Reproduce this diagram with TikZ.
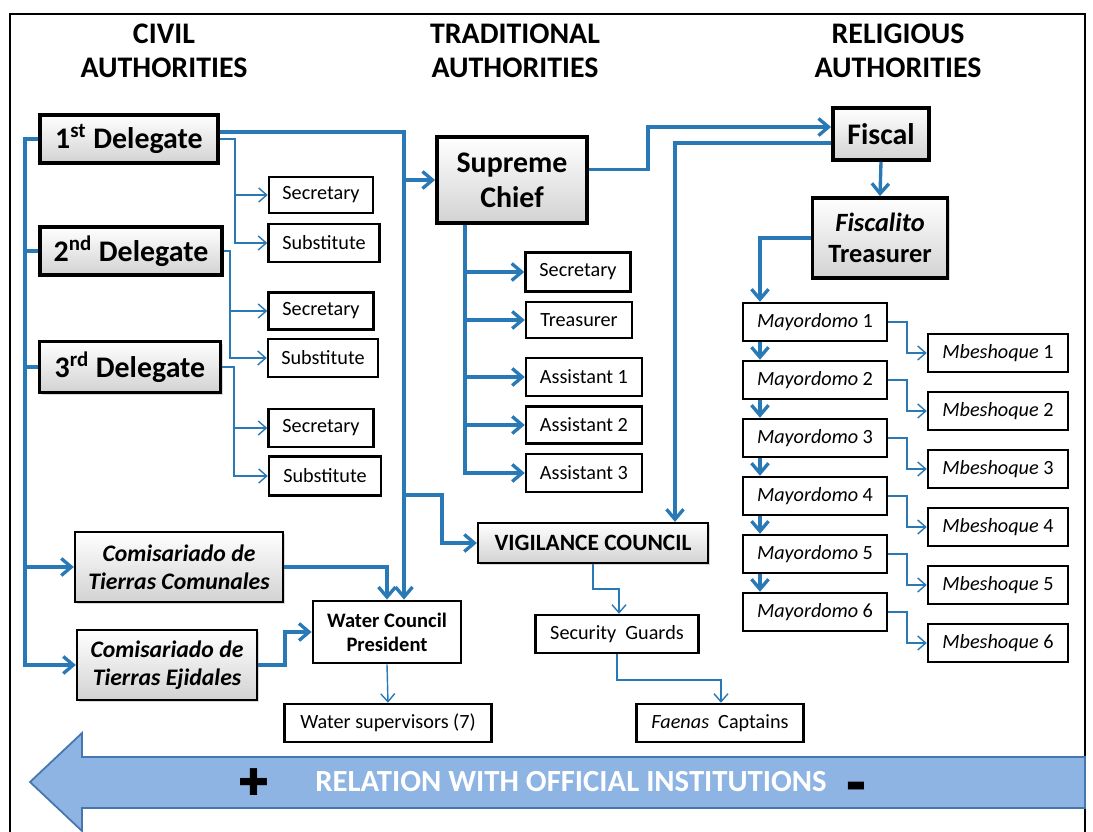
\documentclass[tikz,border=0pt]{standalone}
\usepackage{fontspec}
\setmainfont{Carlito}
\newfontfamily\symfont{DejaVu Sans}
\usetikzlibrary{arrows.meta,shadows}

\definecolor{linkblue}{RGB}{41,121,183}
\definecolor{bandfill}{RGB}{141,180,226}
\definecolor{bandline}{RGB}{70,118,175}

\tikzset{
  boxw/.style={minimum width=#1*0.02cm},
  boxh/.style={minimum height=#1*0.02cm},
  head/.style={font=\bfseries\fontsize{17}{19.5}\selectfont, align=center},
  chiefbox/.style={draw, line width=2.2pt, top color=white, bottom color=gray!35, inner sep=0pt,
    align=center, font=\bfseries\fontsize{17}{20}\selectfont,
    drop shadow={shadow xshift=1.2pt, shadow yshift=-1.2pt, opacity=0.3}},
  councilbox/.style={chiefbox, line width=1.3pt},
  plainbox/.style={draw, line width=1.4pt, fill=white, inner sep=0pt, align=center,
    font=\fontsize{11.5}{13}\selectfont},
  wire/.style={draw=linkblue, line width=1.9pt},
  twig/.style={draw=linkblue, line width=0.8pt},
  bigarrow/.style={-{Straight Barb[length=2mm,width=3.4mm]}},
  smallarrow/.style={-{Straight Barb[length=1.6mm,width=2.8mm]}}
}

\begin{document}
\begin{tikzpicture}[x=0.02cm, y=-0.02cm]

\useasboundingbox (0,0) rectangle (1093,832);
\draw[line width=1pt] (10,832) -- (10,14) -- (1085,14) -- (1085,832);

\node[head] (civil) at (164,51) {CIVIL\\AUTHORITIES};
\node[head] (trad) at (515,51) {TRADITIONAL\\AUTHORITIES};
\node[head] (relig) at (898,51) {RELIGIOUS\\AUTHORITIES};

% civil
\node[chiefbox, boxw=178, boxh=48] (del1) at (129,139) {1\textsuperscript{st} Delegate};
\node[chiefbox, boxw=182, boxh=48] (del2) at (131,251) {2\textsuperscript{nd} Delegate};
\node[chiefbox, boxw=181, boxh=51] (del3) at (130,367) {3\textsuperscript{rd} Delegate};
\node[plainbox, boxw=104, boxh=36] (sec1) at (321,195) {Secretary};
\node[plainbox, boxw=111, boxh=38] (sub1) at (324,243) {Substitute};
\node[plainbox, boxw=105, boxh=37] (sec2) at (321,311) {Secretary};
\node[plainbox, boxw=110, boxh=38] (sub2) at (323,358) {Substitute};
\node[plainbox, boxw=105, boxh=38] (sec3) at (321,428) {Secretary};
\node[plainbox, boxw=112, boxh=39] (sub3) at (325,476) {Substitute};
\node[councilbox, boxw=208, boxh=70, font=\bfseries\itshape\fontsize{13.5}{16}\selectfont] (comun) at (179,567) {Comisariado de\\Tierras Comunales};
\node[councilbox, boxw=180, boxh=70, font=\bfseries\itshape\fontsize{13.5}{16}\selectfont] (ejid) at (167,665) {Comisariado de\\Tierras Ejidales};
\node[plainbox, line width=1.6pt, boxw=148, boxh=62, font=\bfseries\fontsize{11.7}{13.5}\selectfont] (wcp) at (387,632) {Water Council\\President};
\node[plainbox, boxw=207, boxh=38] (wsup) at (388,723) {Water supervisors (7)};

% traditional
\node[chiefbox, boxw=150, boxh=86] (chief) at (512,180) {Supreme\\Chief};
\node[plainbox, boxw=105, boxh=39] (tsec) at (578,272) {Secretary};
\node[plainbox, boxw=106, boxh=36] (ttre) at (579,320) {Treasurer};
\node[plainbox, boxw=116, boxh=38] (ass1) at (584,377) {Assistant 1};
\node[plainbox, boxw=116, boxh=37] (ass2) at (584,425) {Assistant 2};
\node[plainbox, boxw=116, boxh=38] (ass3) at (584,473) {Assistant 3};
\node[councilbox, boxw=230, boxh=40, font=\bfseries\fontsize{13.3}{15}\selectfont] (vig) at (593,543) {VIGILANCE COUNCIL};
\node[plainbox, boxw=163, boxh=38] (guards) at (617,634) {Security\ \ Guards};
\node[plainbox, boxw=167, boxh=38] (faenas) at (720,723) {\textit{Faenas}\ \ Captains};

% religious
\node[chiefbox, boxw=96, boxh=52] (fisc) at (881,134) {Fiscal};
\node[chiefbox, boxw=135, boxh=80, font=\bfseries\fontsize{15}{17.6}\selectfont] (fita) at (880,238) {\textit{Fiscalito}\\Treasurer};
\foreach \i in {1,...,6} {
  \node[plainbox, boxw=144, boxh=38] (may\i) at (815,{322+58*(\i-1)}) {\textit{Mayordomo} \i};
  \node[plainbox, boxw=140, boxh=38] (mb\i) at (998,{353+58*(\i-1)}) {\textit{Mbeshoque} \i};
}

\coordinate (trunk) at (25,139);
\coordinate (b1) at (235,0);
\coordinate (b2) at (230,0);
\coordinate (b3) at (234,0);
\coordinate (spine) at (404,0);
\coordinate (vbend) at (442,495);
\coordinate (ejbend) at (285,0);
\coordinate (cs) at (465,0);
\coordinate (cfup) at (648,127);
\coordinate (fv) at (675,143);
\coordinate (fm) at (760,0);
\coordinate (mm) at (907,0);
\coordinate (vg) at (619,589);
\coordinate (gf) at (721,680);

% civil links
\draw[wire, bigarrow] (del1.west) -- (trunk) |- (ejid.west);
\draw[wire] (trunk |- del2.west) -- (del2.west);
\draw[wire] (trunk |- del3.west) -- (del3.west);
\draw[wire, bigarrow] (trunk |- comun.west) -- (comun.west);
\draw[twig, smallarrow] (del1.east) -- (del1.east -| b1) |- (sub1.west);
\draw[twig, smallarrow] (b1 |- sec1.west) -- (sec1.west);
\draw[twig, smallarrow] (del2.east) -- (del2.east -| b2) |- (sub2.west);
\draw[twig, smallarrow] (b2 |- sec2.west) -- (sec2.west);
\draw[twig, smallarrow] (del3.east) -- (del3.east -| b3) |- (sub3.west);
\draw[twig, smallarrow] (b3 |- sec3.west) -- (sec3.west);
\draw[wire, bigarrow] ([yshift=4pt]del1.east) -| (spine |- wcp.north);
\draw[wire, bigarrow] (spine |- chief.west) -- (chief.west);
\draw[wire, bigarrow] (spine |- vbend) -- (vbend) |- (vig.west);
\draw[wire, bigarrow] (comun.east) -| (wcp.north);
\draw[wire, bigarrow] (ejid.east) -| (ejbend |- wcp.west) -- (wcp.west);
\draw[twig, smallarrow] (wcp.south) -- (wsup.north);

% traditional links
\draw[wire, bigarrow] (cs |- chief.south) |- (ass3.west);
\foreach \n in {tsec,ttre,ass1,ass2}
  \draw[wire, bigarrow] (cs |- \n.west) -- (\n.west);
\draw[twig, smallarrow] (vig.south) |- (vg) -- (vg |- guards.north);
\draw[twig, smallarrow] (guards.south) |- (gf) -- (gf |- faenas.north);

% religious links
\draw[wire, bigarrow] ([yshift=6pt]chief.east) -| (cfup) -- (fisc.west |- cfup);
\draw[wire, bigarrow] (fisc.west |- fv) -- (fv) -- (fv |- vig.north);
\draw[wire, bigarrow] (fisc.south) -- (fita.north);
\draw[wire, bigarrow] (fita.west) -| (fm |- may1.north);
\foreach \i/\j in {1/2,2/3,3/4,4/5,5/6}
  \draw[wire, bigarrow] (fm |- may\i.south) -- (fm |- may\j.north);
\foreach \i in {1,...,6}
  \draw[twig, smallarrow] (may\i.east) -| (mm |- mb\i.west) -- (mb\i.west);

% band
\draw[fill=bandfill, draw=bandline, line width=1pt] (30,782) -- (82,733) -- (82,757) -- (1085,757)
  -- (1085,808) -- (82,808) -- (82,831) -- cycle;
\node[font=\symfont\bfseries\fontsize{21}{21}\selectfont] (plus) at (254,782) {✚};
\node[font=\bfseries\fontsize{17.5}{19}\selectfont, text=white] (relation) at (571,782) {RELATION WITH OFFICIAL INSTITUTIONS};
\node[font=\symfont\fontsize{12}{12}\selectfont, anchor=center] (minus) at (856,787) {▬};

\end{tikzpicture}
\end{document}
